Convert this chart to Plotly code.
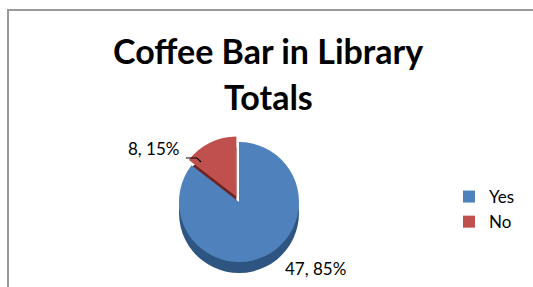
import plotly.graph_objects as go

categories = ["Yes", "No"]
counts = [47, 8]
colors = ["#4F81BD", "#C0504D"]
side_colors = ["#2E5582", "#6E2422"]
title_lines = ["Coffee Bar in Library", "Totals"]

W, H = 533, 287
FONT = "Lato, Carlito, sans-serif"

def px_dom(x0, x1, y0, y1):
    # pixel (from top-left) -> paper domain
    return dict(x=[x0 / W, x1 / W], y=[max(0, 1 - y1 / H), min(1, 1 - y0 / H)])

def px(x, y):
    return x / W, 1 - y / H

total = sum(counts)
labels_txt = [f"{v}, {round(100 * v / total)}%" for v in counts]

fig = go.Figure()

# side (depth) of the pie, drawn behind and offset downward
fig.add_trace(go.Pie(
    labels=categories, values=counts,
    marker=dict(colors=side_colors, line=dict(width=0)),
    pull=[0, 0.1], sort=False, direction="clockwise", rotation=0,
    textinfo="none", hoverinfo="skip", showlegend=False,
    domain=px_dom(173, 305, 147, 279),
))

# top face
fig.add_trace(go.Pie(
    labels=categories, values=counts,
    marker=dict(colors=colors, line=dict(width=0)),
    pull=[0, 0.1], sort=False, direction="clockwise", rotation=0,
    textinfo="none",
    domain=px_dom(173, 305, 136, 268),
))

label_pos = [(315, 268), (153, 148)]
ty1 = px(0, 50)[1]
ty2 = px(0, 96)[1]
annotations = [
    dict(text="<b>" + title_lines[0] + "</b>", x=268 / W, y=ty1,
         xref="paper", yref="paper", xanchor="center", yanchor="middle",
         showarrow=False, font=dict(family=FONT, size=34, color="#000000")),
    dict(text="<b>" + title_lines[1] + "</b>", x=268 / W, y=ty2,
         xref="paper", yref="paper", xanchor="center", yanchor="middle",
         showarrow=False, font=dict(family=FONT, size=34, color="#000000")),
]
for txt, (lx, ly) in zip(labels_txt, label_pos):
    x, y = px(lx, ly)
    annotations.append(dict(text=txt, x=x, y=y, xref="paper", yref="paper",
                            xanchor="center", yanchor="middle", showarrow=False,
                            font=dict(family=FONT, size=17, color="#000000")))

fig.update_layout(
    width=W, height=H,
    margin=dict(l=0, r=0, t=0, b=0),
    paper_bgcolor="white",
    plot_bgcolor="white",
    annotations=annotations,
    legend=dict(
        x=449 / W, xanchor="left",
        y=1 - 179 / H, yanchor="top",
        font=dict(family=FONT, size=17, color="#000000"),
        itemwidth=30,
        bgcolor="rgba(0,0,0,0)",
    ),
    shapes=[
        dict(type="rect", xref="paper", yref="paper",
             x0=8 / W, x1=1.2, y0=-0.2, y1=1 - 10 / H,
             line=dict(color="#999999", width=2),
             fillcolor="rgba(0,0,0,0)", layer="below"),
        dict(type="path", xref="paper", yref="paper",
             path="M {} {} L {} {} L {} {}".format(
                 *px(186, 158), *px(197, 158), *px(201, 162)),
             line=dict(color="#000000", width=1.2)),
    ],
)

fig.write_html("out.html", config={"displayModeBar": False},
               post_script="document.body.style.margin='0';")
